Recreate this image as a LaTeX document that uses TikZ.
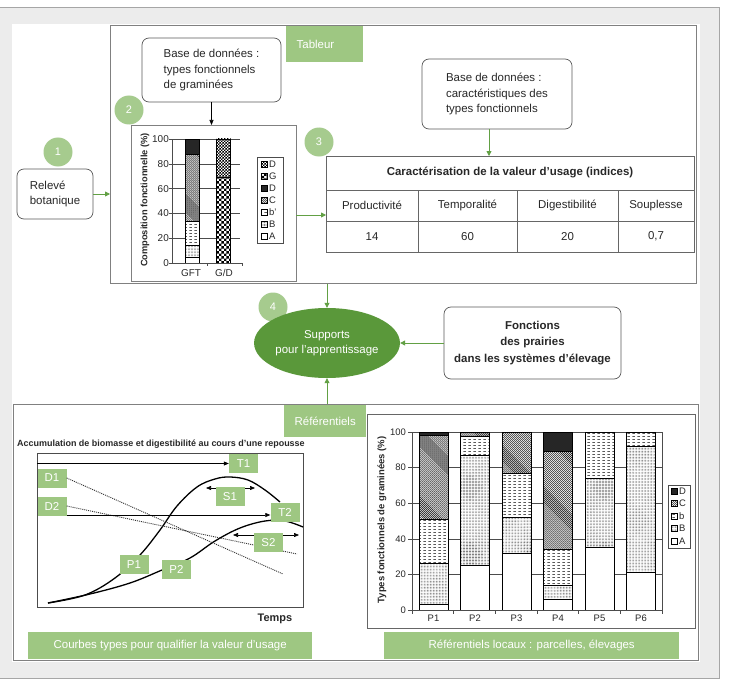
\documentclass[tikz,border=0pt]{standalone}
\usepackage{fontspec}
\setmainfont{Liberation Sans}
\usetikzlibrary{shapes.geometric,arrows.meta,patterns}
\pgfdeclarepatternformonly{fdots}{\pgfqpoint{-0.4pt}{-0.4pt}}{\pgfqpoint{0.4pt}{0.4pt}}{\pgfqpoint{1.5pt}{1.5pt}}{\pgfpathcircle{\pgfpointorigin}{0.3pt}\pgfusepath{fill}}
\pgfdeclarepatternformonly{hdash}{\pgfqpoint{0pt}{0pt}}{\pgfqpoint{5pt}{3pt}}{\pgfqpoint{5pt}{3pt}}{\pgfsetlinewidth{0.5pt}\pgfpathmoveto{\pgfqpoint{0.5pt}{1.5pt}}\pgfpathlineto{\pgfqpoint{3pt}{1.5pt}}\pgfusepath{stroke}}
\pgfdeclarepatternformonly{nwl}{\pgfqpoint{-0.5pt}{-0.5pt}}{\pgfqpoint{2.5pt}{2.5pt}}{\pgfqpoint{2pt}{2pt}}{\pgfsetlinewidth{0.4pt}\pgfpathmoveto{\pgfqpoint{-0.1pt}{2.1pt}}\pgfpathlineto{\pgfqpoint{2.1pt}{-0.1pt}}\pgfusepath{stroke}}
\pgfdeclarepatternformonly{chk}{\pgfpointorigin}{\pgfqpoint{5pt}{5pt}}{\pgfqpoint{5pt}{5pt}}{\pgfpathrectangle{\pgfpointorigin}{\pgfqpoint{2.5pt}{2.5pt}}\pgfpathrectangle{\pgfqpoint{2.5pt}{2.5pt}}{\pgfqpoint{2.5pt}{2.5pt}}\pgfusepath{fill}}
\pgfdeclarepatternformonly{fchk}{\pgfpointorigin}{\pgfqpoint{3pt}{3pt}}{\pgfqpoint{3pt}{3pt}}{\pgfpathrectangle{\pgfpointorigin}{\pgfqpoint{1.5pt}{1.5pt}}\pgfpathrectangle{\pgfqpoint{1.5pt}{1.5pt}}{\pgfqpoint{1.5pt}{1.5pt}}\pgfusepath{fill}}
\definecolor{lgreen}{RGB}{158,199,130}
\definecolor{cgreen}{RGB}{166,203,142}
\definecolor{egreen}{RGB}{90,152,58}
\definecolor{agreen}{RGB}{98,160,68}
\definecolor{bgpanel}{RGB}{236,236,236}
\definecolor{txt}{RGB}{40,40,40}
\newcommand\sseg[4]{\draw[line width=0.4pt,#4] (#1,{263-1.24*(#2)}) rectangle ({#1+14},{263-1.24*(#3)});}
\newcommand\rseg[4]{\draw[line width=0.5pt,#4] ({#1-14.5},{610-1.78*(#2)}) rectangle ({#1+14.5},{610-1.78*(#3)});}
\tikzset{
 pA/.style={fill=white},
 pB/.style={fill=white,postaction={pattern=fdots}},
 pb/.style={fill=white,postaction={pattern=hdash}},
 pC/.style={fill=white,postaction={pattern=nwl}},
 pD/.style={fill=black!85},
 pG/.style={fill=white,postaction={pattern=chk}},
 pX/.style={fill=white,postaction={pattern=fchk}},
 fs/.style={font=\fontsize{11.5}{15.5}\selectfont},
 rbox/.style={draw=black!65, line width=0.7pt, rounded corners=7bp, fill=white, align=left, inner sep=0pt, text=txt, fs},
 frm/.style={draw=black!50, line width=0.8pt, fill=white, inner sep=0pt, anchor=north west},
 glab/.style={fill=lgreen, text=white, inner sep=0pt, fs},
 clab/.style={glab, minimum width=29bp, minimum height=19bp},
 numc/.style={circle, fill=cgreen, text=white, minimum size=29bp, inner sep=0pt, font=\fontsize{11}{13}\selectfont},
 garr/.style={draw=agreen, line width=0.8pt, -{Triangle[length=5bp,width=5bp]}},
 barr/.style={draw=black, line width=0.6pt, -{Triangle[length=5bp,width=4bp]}},
 darr/.style={draw=black, line width=0.6pt, {Triangle[length=5bp,width=4bp]}-{Triangle[length=5bp,width=4bp]}},
 tick/.style={font=\fontsize{10}{12}\selectfont, text=txt, inner sep=0pt},
 rtick/.style={font=\fontsize{9.5}{11}\selectfont, text=txt, inner sep=0pt},
 leg/.style={font=\fontsize{9.5}{11}\selectfont, text=txt, inner sep=0pt, anchor=west},
 tcell/.style={fs, text=txt, inner sep=0pt},
 grid/.style={draw=black!70, line width=0.5pt},
}
\begin{document}
\begin{tikzpicture}[x=1bp,y=-1bp]
\useasboundingbox (0,0) rectangle (729,689);
\fill[white] (0,0) rectangle (729,689);
\draw[fill=bgpanel, draw=black!35, line width=0.8pt] (-5,7) rectangle (719,678);
\fill[white] (12,24) rectangle (700,662);

% ---------- top frame ----------
\node[frm, minimum width=586bp, minimum height=258bp] (tab) at (110,25) {};
\node[glab, anchor=north west, minimum height=36bp, text width=56bp, inner xsep=10.5bp, align=left] (tabl) at (286,26) {Tableur};

\node[numc] (n1) at (58,152) {1};
\node[rbox, minimum width=76bp, minimum height=50bp] (rel) at (55,194) {Relevé\\botanique};
\draw[garr] (rel.east) -- (rel.east -| tab.west);

\node[rbox, minimum width=139bp, minimum height=64bp] (b1) at (211.5,70) {Base de données :\\types fonctionnels\\de graminées};
\node[numc] (n2) at (129,110) {2};

% small chart
\node[frm, minimum width=165bp, minimum height=156bp] (gc) at (131,125) {};
\draw[barr] (b1.south) -- (b1.south |- gc.north);
\foreach \v in {20,40,60,80,100} \draw[grid] (172,{263-1.24*\v}) -- (240,{263-1.24*\v});
\sseg{185}{0}{5}{pA}
\sseg{185}{5}{14}{pB}
\sseg{185}{14}{34}{pb}
\sseg{185}{34}{88}{pC}
\sseg{185}{88}{100}{pD}
\sseg{216.5}{0}{69}{pG}
\sseg{216.5}{69}{100}{pX}
\draw[grid] (172,139) -- (172,263) -- (242,263);
\foreach \v in {0,20,40,60,80,100} \draw[grid] (169,{263-1.24*\v}) -- (172,{263-1.24*\v});
\draw[grid] (207,263) -- (207,266) (242,263) -- (242,266);
\node[tick, anchor=east] (gy0) at (169,263) {0};
\node[tick, anchor=east] (gy1) at (169,238.2) {20};
\node[tick, anchor=east] (gy2) at (169,213.4) {40};
\node[tick, anchor=east] (gy3) at (169,188.6) {60};
\node[tick, anchor=east] (gy4) at (169,163.8) {80};
\node[tick, anchor=east] (gy5) at (169,139) {100};
\node[tick] (gx1) at (191,273) {GFT};
\node[tick] (gx2) at (224,273) {G/D};
\node[rotate=90, font=\bfseries\fontsize{9.3}{11}\selectfont, text=txt, inner sep=0pt] (gyl) at (145,200) {Composition fonctionnelle (\%)};
\node[draw=black!70, line width=0.5pt, minimum width=26bp, minimum height=86bp, inner sep=0pt, anchor=north west] (gleg) at (257,157) {};
\draw[pX,line width=0.4pt] (261,161) rectangle (267,167);
\draw[pG,line width=0.4pt] (261,173) rectangle (267,179);
\draw[pD,line width=0.4pt] (261,185) rectangle (267,191);
\draw[pC,line width=0.4pt] (261,197) rectangle (267,203);
\draw[pb,line width=0.4pt] (261,209) rectangle (267,215);
\draw[pB,line width=0.4pt] (261,221) rectangle (267,227);
\draw[pA,line width=0.4pt] (261,233) rectangle (267,239);
\node[leg] (gl1) at (269,164) {D};
\node[leg] (gl2) at (269,176) {G};
\node[leg] (gl3) at (269,188) {D};
\node[leg] (gl4) at (269,200) {C};
\node[leg] (gl5) at (269,212) {b'};
\node[leg] (gl6) at (269,224) {B};
\node[leg] (gl7) at (269,236) {A};

% table
\node[rbox, minimum width=150bp, minimum height=70bp] (b2) at (497,94) {Base de données :\\caractéristiques des\\types fonctionnels};
\node[frm, draw=black!60, minimum width=368bp, minimum height=96bp] (tbl) at (326,156) {};
\draw[black!60, line width=0.7pt] (326,190) -- (694,190) (326,221) -- (694,221)
  (418,190) -- (418,252) (517,190) -- (517,252) (618,190) -- (618,252);
\coordinate (a2) at (489,129);
\draw[garr] (a2) -- (a2 |- tbl.north);
\coordinate (a3) at (296,215);
\draw[garr] (a3) -- (a3 -| tbl.west);
\node[numc] (n3) at (319,142) {3};
\node[tcell, font=\bfseries\fontsize{11.5}{14}\selectfont] (th) at (510,173) {Caractérisation de la valeur d’usage (indices)};
\node[tcell] (c1) at (372,205.5) {Productivité};
\node[tcell] (c2) at (467.5,205.5) {Temporalité};
\node[tcell] (c3) at (567.5,205.5) {Digestibilité};
\node[tcell] (c4) at (656,205.5) {Souplesse};
\node[tcell] (d1) at (372,236.5) {14};
\node[tcell] (d2) at (467.5,236.5) {60};
\node[tcell] (d3) at (567.5,236.5) {20};
\node[tcell] (d4) at (656,236.5) {0,7};

% ---------- middle ----------
\node[numc] (n4) at (273,307) {4};
\node[ellipse, fill=egreen, text=white, minimum width=137bp, minimum height=70bp, inner sep=0pt, align=center, fs] (ell) at (327,343) {Supports\\pour l'apprentissage};
\node[rbox, align=center, minimum width=177bp, minimum height=72bp, font=\bfseries\fontsize{11.5}{16.5}\selectfont] (fonc) at (532.5,343) {Fonctions\\des prairies\\dans les systèmes d’élevage};
\draw[garr] (ell.north |- tab.south) -- (ell.north);
\draw[garr] (fonc.west) -- (ell.east);

% ---------- bottom frame ----------
\node[frm, minimum width=685bp, minimum height=256bp] (bot) at (13,404) {};
\draw[garr] (ell.south |- bot.north) -- (ell.south);
\node[glab, anchor=north west, minimum width=82bp, minimum height=32bp] (refl) at (284,405) {Référentiels};

% curve chart
\node[anchor=west, inner sep=0pt, text=txt, font=\bfseries\fontsize{9}{11}\selectfont] (ttl) at (17,444) {Accumulation de biomasse et digestibilité au cours d'une repousse};
\node[frm, draw=black!70, line width=0.6pt, minimum width=266bp, minimum height=154bp] (cc) at (37,453) {};
\node[anchor=center, inner sep=0pt, text=txt, font=\bfseries\fontsize{11}{13}\selectfont] (temps) at (275,619) {Temps};
\draw[line width=1.3pt] plot[smooth, tension=0.6] coordinates {(48,603) (85,595) (115,578) (140,555) (160,530) (177,506) (197,487) (215,479) (230,477) (248,480) (265,490) (280,502)};
\draw[line width=1.3pt] plot[smooth, tension=0.6] coordinates {(48,603) (90,594) (130,583) (162,570) (190,558) (215,541) (240,528) (265,521) (285,521) (303,527)};
\node[clab] (D1) at (52,478) {D1};
\node[clab] (D2) at (52,506) {D2};
\node[clab] (T1) at (243.5,463.5) {T1};
\node[clab] (T2) at (285,512.5) {T2};
\coordinate (d1e) at (283,574);
\coordinate (d2e) at (297,554);
\draw[line width=0.9pt, dash pattern=on 1pt off 1pt, black!80] (D1.east) -- (d1e);
\draw[line width=0.9pt, dash pattern=on 1pt off 1pt, black!80] (D2.east) -- (d2e);
\draw[barr] (cc.west |- T1.west) -- (T1.west);
\coordinate (t2s) at (67,515);
\draw[barr] (t2s) -- (t2s -| T2.west);
\coordinate (s1a) at (206,488);
\coordinate (s1b) at (255,488);
\draw[darr] (s1a) -- (s1b);
\coordinate (s2a) at (233,535);
\coordinate (s2b) at (299,535);
\draw[darr] (s2a) -- (s2b);
\node[clab] (S1) at (230,496.5) {S1};
\node[clab] (S2) at (268.5,542.5) {S2};
\node[clab] (P1) at (134,564.5) {P1};
\node[clab] (P2) at (176.5,569) {P2};
\node[glab, anchor=north west, minimum width=284bp, minimum height=27bp] (cl) at (28,632) {Courbes types pour qualifier la valeur d’usage};

% right chart
\node[frm, draw=black!60, line width=0.6pt, minimum width=328bp, minimum height=214bp] (rc) at (367,414) {};
\foreach \v in {20,40,60,80,100} \draw[grid] (412,{610-1.78*\v}) -- (662,{610-1.78*\v});
\draw[grid] (662,432) -- (662,610);
\rseg{433.5}{0}{3}{pA}
\rseg{433.5}{3}{26}{pB}
\rseg{433.5}{26}{51}{pb}
\rseg{433.5}{51}{98}{pC}
\rseg{433.5}{98}{100}{pD}
\rseg{475}{0}{25}{pA}
\rseg{475}{25}{87}{pB}
\rseg{475}{87}{97.5}{pb}
\rseg{475}{97.5}{100}{pC}
\rseg{516.5}{0}{32}{pA}
\rseg{516.5}{32}{52}{pB}
\rseg{516.5}{52}{77}{pb}
\rseg{516.5}{77}{100}{pC}
\rseg{558}{0}{6}{pA}
\rseg{558}{6}{14}{pB}
\rseg{558}{14}{34}{pb}
\rseg{558}{34}{89}{pC}
\rseg{558}{89}{100}{pD}
\rseg{599.5}{0}{35}{pA}
\rseg{599.5}{35}{74}{pB}
\rseg{599.5}{74}{100}{pb}
\rseg{641}{0}{21}{pA}
\rseg{641}{21}{92}{pB}
\rseg{641}{92}{100}{pb}
\draw[grid] (412,432) -- (412,610) -- (662,610);
\foreach \v in {0,20,40,60,80,100} \draw[grid] (408,{610-1.78*\v}) -- (412,{610-1.78*\v});
\foreach \x in {412,453.7,495.3,537,578.7,620.3,662} \draw[grid] (\x,610) -- (\x,614);
\node[rtick, anchor=east] (ry0) at (406,610) {0};
\node[rtick, anchor=east] (ry1) at (406,574.4) {20};
\node[rtick, anchor=east] (ry2) at (406,538.8) {40};
\node[rtick, anchor=east] (ry3) at (406,503.2) {60};
\node[rtick, anchor=east] (ry4) at (406,467.6) {80};
\node[rtick, anchor=east] (ry5) at (406,432) {100};
\node[rtick] (rx1) at (433.5,618.5) {P1};
\node[rtick] (rx2) at (475,618.5) {P2};
\node[rtick] (rx3) at (516.5,618.5) {P3};
\node[rtick] (rx4) at (558,618.5) {P4};
\node[rtick] (rx5) at (599.5,618.5) {P5};
\node[rtick] (rx6) at (641,618.5) {P6};
\node[rotate=90, font=\bfseries\fontsize{9.5}{11}\selectfont, text=txt, inner sep=0pt] (ryl) at (382,520) {Types fonctionnels de graminées (\%)};
\node[draw=black!70, line width=0.5pt, minimum width=22bp, minimum height=63bp, inner sep=0pt, anchor=north west] (rleg) at (668,485) {};
\draw[pD,line width=0.4pt] (671,488) rectangle (677,494);
\draw[pC,line width=0.4pt] (671,500.5) rectangle (677,506.5);
\draw[pb,line width=0.4pt] (671,513) rectangle (677,519);
\draw[pB,line width=0.4pt] (671,525.5) rectangle (677,531.5);
\draw[pA,line width=0.4pt] (671,538) rectangle (677,544);
\node[leg] (rl1) at (679,491) {D};
\node[leg] (rl2) at (679,503.5) {C};
\node[leg] (rl3) at (679,516) {b};
\node[leg] (rl4) at (679,528.5) {B};
\node[leg] (rl5) at (679,541) {A};
\node[glab, anchor=north west, minimum width=295bp, minimum height=27bp] (rlab) at (384,632) {Référentiels locaux : parcelles, élevages};
\end{tikzpicture}
\end{document}
